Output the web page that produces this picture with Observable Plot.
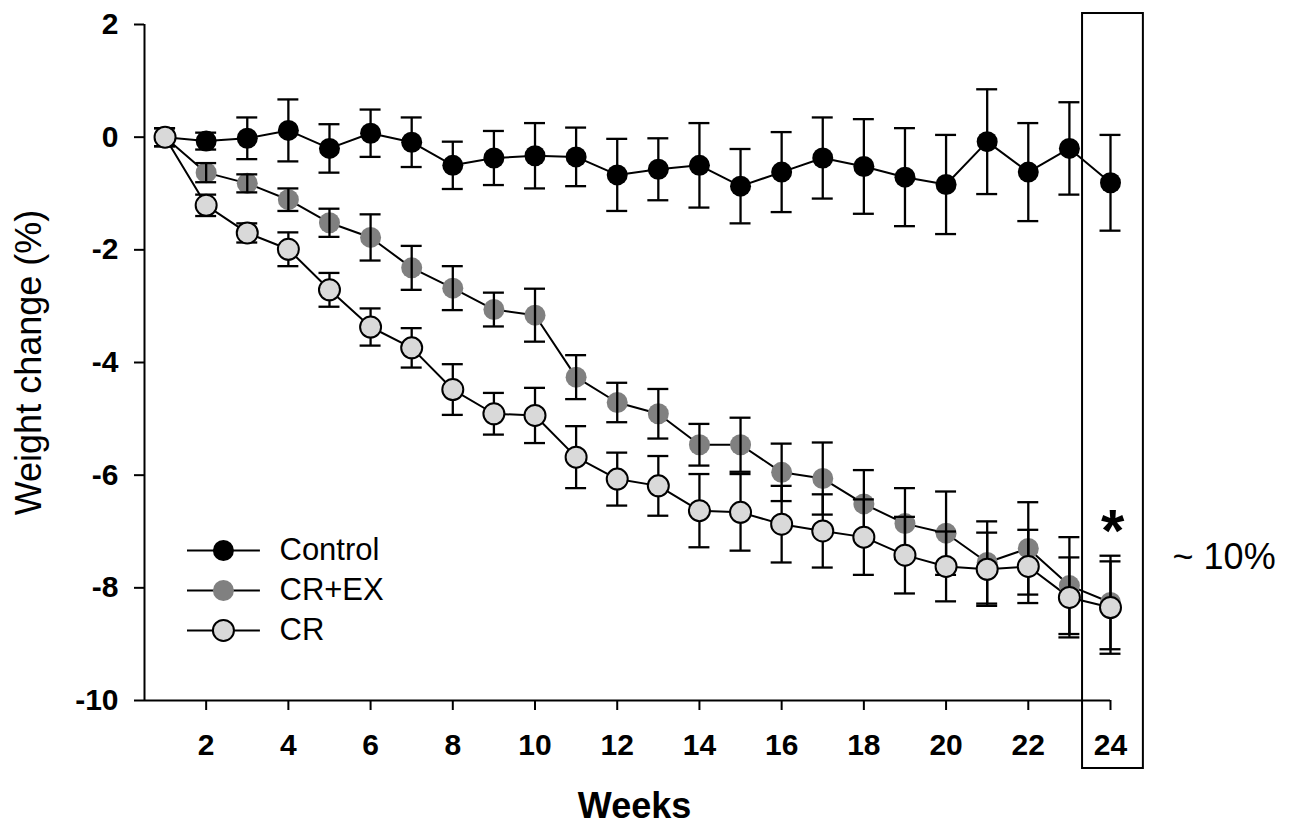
<!DOCTYPE html>
<html>
<head>
<meta charset="utf-8">
<script src="https://cdn.jsdelivr.net/npm/d3@7"></script>
<script src="https://cdn.jsdelivr.net/npm/@observablehq/plot@0.6"></script>
<style>
  html, body { margin: 0; padding: 0; background: #fff; }
  #chart svg { display: block; }
</style>
</head>
<body>
<div id="chart"></div>
<script>
// ---- Data ----
const weeks = [1,2,3,4,5,6,7,8,9,10,11,12,13,14,15,16,17,18,19,20,21,22,23,24];
const groups = ["Control", "CR+EX", "CR"];

const controlMean = [0, -0.07, -0.02, 0.12, -0.20, 0.07, -0.09, -0.50, -0.37, -0.33, -0.35, -0.67, -0.57, -0.50, -0.87, -0.62, -0.37, -0.52, -0.71, -0.84, -0.08, -0.62, -0.20, -0.81];
const controlErr  = [0.16, 0.15, 0.37, 0.55, 0.43, 0.42, 0.44, 0.42, 0.48, 0.58, 0.52, 0.64, 0.55, 0.75, 0.66, 0.71, 0.72, 0.84, 0.87, 0.88, 0.93, 0.87, 0.82, 0.85];

const crexMean = [0, -0.63, -0.82, -1.11, -1.52, -1.78, -2.32, -2.68, -3.06, -3.16, -4.26, -4.71, -4.91, -5.46, -5.46, -5.95, -6.06, -6.51, -6.86, -7.03, -7.55, -7.30, -7.96, -8.26];
const crexErr  = [0.16, 0.17, 0.16, 0.20, 0.25, 0.41, 0.39, 0.39, 0.30, 0.47, 0.39, 0.35, 0.44, 0.37, 0.48, 0.51, 0.64, 0.60, 0.63, 0.74, 0.73, 0.82, 0.86, 0.83];

const crMean = [0, -1.21, -1.70, -1.99, -2.71, -3.37, -3.74, -4.48, -4.91, -4.94, -5.68, -6.07, -6.19, -6.63, -6.66, -6.87, -6.99, -7.10, -7.42, -7.62, -7.67, -7.62, -8.17, -8.35];
const crErr  = [0.16, 0.19, 0.17, 0.30, 0.30, 0.33, 0.35, 0.45, 0.37, 0.49, 0.55, 0.47, 0.53, 0.65, 0.68, 0.68, 0.65, 0.67, 0.68, 0.62, 0.65, 0.65, 0.71, 0.82];

const xTicks = [2,4,6,8,10,12,14,16,18,20,22,24];
const yTicks = [-10,-8,-6,-4,-2,0,2];

const xLabel = "Weeks";
const yLabel = "Weight change (%)";
const highlightWeek = 24;
const highlightNote = "~ 10%";
const sigMark = "*";

// ---- Styling ----
const fills   = {"Control": "#000000", "CR+EX": "#808080", "CR": "#d9d9d9"};
const strokes = {"Control": "none",    "CR+EX": "none",    "CR": "#000000"};
const font = "'Liberation Sans', Arial, Helvetica, sans-serif";
const R = 10.5;
const capHalf = 0.255;  // half width of error-bar caps, in weeks

// ---- Build tables ----
const means = [controlMean, crexMean, crMean];
const errs  = [controlErr, crexErr, crErr];
const rows = [];
groups.forEach((g, gi) => weeks.forEach((w, i) => rows.push({group: g, week: w, mean: means[gi][i], err: errs[gi][i]})));
const byGroup = g => rows.filter(d => d.group === g);

// legend layout (in data units)
const legend = groups.map((g, i) => ({group: g, y: -7.337 - i * 0.71}));
const legX = {x1: 1.546, x2: 3.32, dot: 2.42, text: 3.784};

const marks = [
  // highlight box around last week
  Plot.rect([highlightWeek], {x1: d => d - 0.68, x2: d => d + 0.80, y1: -11.207, y2: 2.195, fill: "none", stroke: "#000", strokeWidth: 2}),
  // axis lines
  Plot.ruleX([0.5], {y1: -10, y2: 2, stroke: "#000", strokeWidth: 2}),
  Plot.ruleY([-10], {x1: 0.5, x2: 24, stroke: "#000", strokeWidth: 2}),
  Plot.axisY({ticks: yTicks, tickSize: 10, tickPadding: 16, fontSize: 30, fontWeight: "bold", label: null, strokeWidth: 2, tickFormat: d => String(d)}),
  Plot.axisX({ticks: xTicks, tickSize: 10, tickPadding: 23, fontSize: 30, fontWeight: "bold", label: null, strokeWidth: 2}),
  // series lines
  ...groups.map(g => Plot.line(byGroup(g), {x: "week", y: "mean", stroke: "#000", strokeWidth: 2})),
  // gray dots under the error bars
  Plot.dot(byGroup("CR+EX"), {x: "week", y: "mean", r: R, fill: fills["CR+EX"], stroke: "none"}),
  // error bars
  Plot.ruleX(rows, {x: "week", y1: d => d.mean - d.err, y2: d => d.mean + d.err, stroke: "#000", strokeWidth: 2.3}),
  Plot.ruleY(rows, {y: d => d.mean + d.err, x1: d => d.week - capHalf, x2: d => d.week + capHalf, stroke: "#000", strokeWidth: 2.3}),
  Plot.ruleY(rows, {y: d => d.mean - d.err, x1: d => d.week - capHalf, x2: d => d.week + capHalf, stroke: "#000", strokeWidth: 2.3}),
  // control and CR dots on top
  Plot.dot(byGroup("Control"), {x: "week", y: "mean", r: R, fill: fills["Control"], stroke: "none"}),
  Plot.dot(byGroup("CR"), {x: "week", y: "mean", r: R, fill: fills["CR"], stroke: "#000", strokeWidth: 2}),
  // legend
  Plot.ruleY(legend, {y: "y", x1: legX.x1, x2: legX.x2, stroke: "#000", strokeWidth: 2}),
  Plot.dot(legend, {x: legX.dot, y: "y", r: R, fill: d => fills[d.group], stroke: d => strokes[d.group], strokeWidth: 2}),
  Plot.text(legend, {x: legX.text, y: "y", text: "group", textAnchor: "start", lineAnchor: "middle", fontSize: 31, fill: "#000"}),
  // annotations
  Plot.text([sigMark], {x: highlightWeek + 0.05, y: -7.0, text: d => d, fontSize: 60, fontWeight: "bold", textAnchor: "middle", lineAnchor: "middle", fill: "#000"}),
  Plot.text([highlightNote], {x: highlightWeek + 1.51, y: -7.46, text: d => d, fontSize: 36, textAnchor: "start", lineAnchor: "middle", fill: "#000"}),
  // axis titles
  Plot.text([yLabel], {frameAnchor: "left", dx: -114.6, rotate: -90, text: d => d, fontSize: 36, textAnchor: "middle", lineAnchor: "middle", fill: "#000"}),
  Plot.text([xLabel], {frameAnchor: "bottom", dx: 7, dy: 106, text: d => d, fontSize: 36, fontWeight: "bold", textAnchor: "middle", lineAnchor: "middle", fill: "#000"})
];

const chart = Plot.plot({
  width: 1294,
  height: 825,
  marginLeft: 144,
  marginRight: 184,
  marginTop: 24,
  marginBottom: 125,
  x: {domain: [0.5, 24]},
  y: {domain: [-10, 2]},
  style: {fontFamily: font, background: "#fff", color: "#000", overflow: "visible"},
  marks
});
document.getElementById("chart").appendChild(chart);
</script>
</body>
</html>
